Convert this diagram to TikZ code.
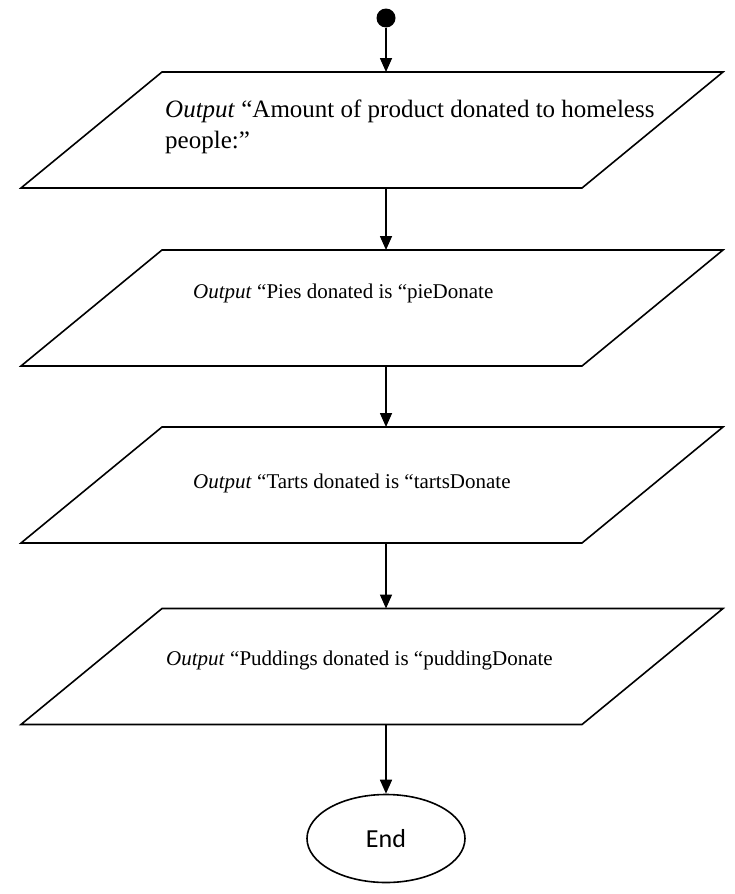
\documentclass[tikz,border=0pt]{standalone}
\usepackage{fontspec}
\setmainfont{Liberation Serif}
\newfontfamily\labelsans{Carlito}
\usetikzlibrary{shapes.geometric,arrows.meta}
\begin{document}
\begin{tikzpicture}[x=1pt,y=-1pt,
  iobox/.style={draw,line width=1.6pt,rectangle,minimum width=561pt,
    minimum height=116pt,inner sep=0pt,outer sep=0pt,
    xslant=1.2155},
  iotext/.style={anchor=west,align=left,inner sep=0pt,
    font=\fontsize{21}{31}\selectfont},
  arr/.style={line width=1.6pt,-{Triangle[length=14pt,width=12pt]}},
  terminal/.style={draw,line width=1.6pt,ellipse,minimum width=158pt,
    minimum height=88pt,inner sep=0pt,font=\labelsans\fontsize{26}{30}\selectfont}]
  \useasboundingbox (0,0) rectangle (734,894);
  % start point
  \node (start) [circle,fill,minimum size=19pt,inner sep=0pt] at (386,18) {};
  % output boxes
  \node (p1) [iobox] at (372,130) {};
  \node (p2) [iobox] at (372,308) {};
  \node (p3) [iobox] at (372,485) {};
  \node (p4) [iobox] at (372,666.5) {};
  \node (t1) [iotext,font=\fontsize{25}{31}\selectfont] at (165,127) {\textit{Output} “Amount of product donated to homeless\\people:”};
  \node (t2) [iotext] at (193,293) {\textit{Output} “Pies donated is “pieDonate};
  \node (t3) [iotext] at (193,483) {\textit{Output} “Tarts donated is “tartsDonate};
  \node (t4) [iotext] at (166,660) {\textit{Output} “Puddings donated is “puddingDonate};
  % end terminal
  \node (end) [terminal] at (386,838.5) {End};
  % connectors
  \draw[arr] (start) -- (start |- p1.north);
  \draw[arr] (start |- p1.south) -- (start |- p2.north);
  \draw[arr] (start |- p2.south) -- (start |- p3.north);
  \draw[arr] (start |- p3.south) -- (start |- p4.north);
  \draw[arr] (start |- p4.south) -- (end);
\end{tikzpicture}
\end{document}
